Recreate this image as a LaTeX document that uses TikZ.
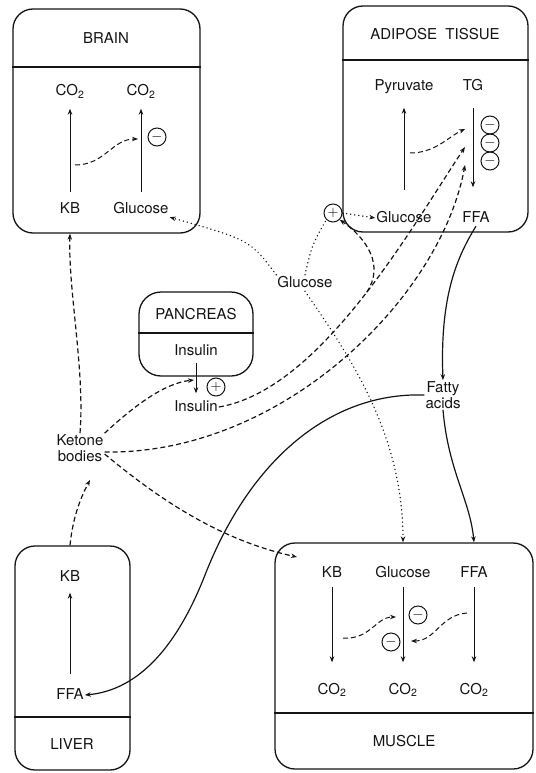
\documentclass[tikz,border=0pt]{standalone}
\usepackage{fontspec}
\setmainfont{TeX Gyre Heros}
\usetikzlibrary{arrows.meta,positioning,calc}
\definecolor{ink}{HTML}{141414}

\tikzset{
  organ/.style={draw=ink,line width=1.3pt,rounded corners=20pt,inner sep=0pt},
  lbl/.style={font=\fontsize{15}{16}\selectfont,text=ink,inner sep=1pt,text height=11pt,text depth=3pt},
  lbltwo/.style={font=\fontsize{15}{16}\selectfont,text=ink,inner sep=1pt,align=center},
  flow/.style={draw=ink,line width=0.8pt,-{Stealth[length=6pt,width=4.5pt]}},
  dashflow/.style={flow,line width=1.2pt,dash pattern=on 5pt off 3pt},
  dotflow/.style={flow,line width=1.5pt,line cap=round,dash pattern=on 0.1pt off 4pt},
  solidflow/.style={flow,line width=1.2pt},
  sign/.style={circle,draw=ink,line width=1pt,minimum size=18pt,inner sep=0pt,font=\fontsize{15}{15}\selectfont}
}

\begin{document}
\begin{tikzpicture}[x=1pt,y=-1pt]
\useasboundingbox (0,0) rectangle (535,773);

% organs
\node[organ,minimum width=187pt,minimum height=224pt] (brain) at (106.5,121) {};
\node[organ,minimum width=185pt,minimum height=226pt] (adipose) at (435.5,119) {};
\node[organ,minimum width=114pt,minimum height=84pt,rounded corners=22pt] (pancreas) at (196,334) {};
\node[organ,minimum width=115pt,minimum height=224pt] (liver) at (72.5,658) {};
\node[organ,minimum width=258pt,minimum height=226pt] (muscle) at (404,656) {};
\draw[ink,line width=1.3pt] (brain.west |- 0,67) -- (brain.east |- 0,67);
\draw[ink,line width=1.3pt] (adipose.west |- 0,60) -- (adipose.east |- 0,60);
\draw[ink,line width=1.3pt] (pancreas.west |- 0,333) -- (pancreas.east |- 0,333);
\draw[ink,line width=1.3pt] (liver.west |- 0,717) -- (liver.east |- 0,717);
\draw[ink,line width=1.3pt] (muscle.west |- 0,713) -- (muscle.east |- 0,713);

\node[lbl] (brainT) at (106,40) {BRAIN};
\node[lbl] (adiposeT) at (435,36) {ADIPOSE\ \ TISSUE};
\node[lbl] (pancreasT) at (196,315) {PANCREAS};
\node[lbl] (liverT) at (72,745) {LIVER};
\node[lbl] (muscleT) at (404,742) {MUSCLE};

% brain
\node[lbl] (bCOa) at (70,92) {CO\textsubscript{2}};
\node[lbl] (bCOb) at (141,92) {CO\textsubscript{2}};
\node[lbl] (bKB) at (70,209) {KB};
\node[lbl] (bGlu) at (141,209) {Glucose};
\node[sign] (bInh) at (157,137) {$-$};
\draw[flow,shorten <=8.5pt,shorten >=8.5pt] (bKB) -- (bCOa);
\draw[flow,shorten <=8.5pt,shorten >=8.5pt] (bGlu.north) -- (bCOb.south);
\coordinate (bFrom) at (75,165);
\coordinate (bTo) at (138,139);
\draw[dashflow,line width=1pt] (bFrom) .. controls (105,165) and (112,139) .. (bTo);

% adipose tissue
\node[lbl] (aPyr) at (404,87) {Pyruvate};
\node[lbl] (aTG) at (473,87) {TG};
\node[lbl] (aGlu) at (404,218) {Glucose};
\node[lbl] (aFFA) at (476,218) {FFA};
\foreach \i/\y in {1/125,2/143,3/161}{
  \node[sign] (aInh\i) at (490,\y) {$-$};
}
\node[sign] (aPlus) at (333,213) {$+$};
\draw[flow,shorten <=20pt,shorten >=12.5pt] (aGlu) -- (aPyr);
\draw[flow,shorten <=12.5pt,shorten >=22.5pt] (aTG.south) -- (aTG.south |- aFFA.north);
\coordinate (aFrom) at (410,153);
\coordinate (aTo1) at (465,129);
\coordinate (aTo2) at (465,147);
\coordinate (aTo3) at (465,165);
\draw[dashflow,line width=1pt] (aFrom) .. controls (435,153) and (448,137) .. (aTo1);

% pancreas
\node[lbl] (pIns) at (196,351) {Insulin};
\node[lbl] (ins) at (196,407) {Insulin};
\node[sign] (pPlus) at (216,387) {$+$};
\draw[flow,shorten <=3.5pt,shorten >=5.5pt] (pIns) -- (ins);
\coordinate (pHit) at (194,380);

% free labels
\node[lbl] (glc) at (305,283) {Glucose};
\node[lbltwo] (ket) at (80,448) {Ketone\\bodies};
\node[lbltwo] (fa) at (443,395) {Fatty\\acids};

% liver
\node[lbl] (lKB) at (70,577) {KB};
\node[lbl] (lFFA) at (70,695) {FFA};
\draw[flow,shorten <=12.5pt,shorten >=7.5pt] (lFFA) -- (lKB);

% muscle
\foreach \n/\x/\t in {KB/332/KB,Glu/403/Glucose,FFA/474/FFA}{
  \node[lbl] (m\n) at (\x,573) {\t};
  \node[lbl] (mCO\n) at (\x,690) {CO\textsubscript{2}};
  \draw[flow,shorten <=5.5pt,shorten >=19.5pt] (m\n) -- (mCO\n);
}
\node[sign] (mInh1) at (418,615) {$-$};
\node[sign] (mInh2) at (391,642) {$-$};
\coordinate (mFrom1) at (343,638);
\coordinate (mTo1) at (396,617);
\coordinate (mFrom2) at (467,613);
\coordinate (mTo2) at (411,641);
\draw[dashflow,line width=1pt] (mFrom1) .. controls (370,640) and (376,617) .. (mTo1);
\draw[dashflow,line width=1pt] (mFrom2) .. controls (440,615) and (436,641) .. (mTo2);
\coordinate (mIn) at (297,557);

% ketone bodies
\coordinate (kIn) at (90,480);
\draw[dashflow] (lKB |- liver.north) .. controls (73,515) and (82,495) .. (kIn);
\draw[dashflow] (ket.north) .. controls (85,370) and (68,290) .. (bKB |- brain.south);
\draw[dashflow] (ket.north east) .. controls (135,405) and (165,383) .. (pHit);
\draw[dashflow] ([yshift=-4pt]ket.east) .. controls (280,455) and (440,300) .. (aTo3);
\draw[dashflow] ([yshift=-6pt]ket.east) .. controls (160,500) and (220,540) .. (mIn);

% insulin
\draw[dashflow] (ins.east) .. controls (320,390) and (410,230) .. coordinate[pos=0.53] (jct) (aTo2);
\draw[dashflow] (jct) .. controls (385,265) and (366,238) .. (aPlus.south east);

% glucose
\draw[dotflow] (glc.north west) .. controls (250,240) .. (bGlu.south east);
\draw[dotflow,-] (glc.north) .. controls (312,245) .. (aPlus.south west);
\draw[dotflow] (aPlus.east) -- (aGlu.west);
\draw[dotflow] (glc.south) .. controls (345,350) and (403,430) .. (mGlu |- muscle.north);

% fatty acids
\draw[solidflow] (aFFA.south) .. controls (455,260) and (440,300) .. (fa.north);
\draw[solidflow] (fa.south) .. controls (448,470) and (470,500) .. (mFFA |- muscle.north);
\draw[solidflow] (fa.west) .. controls (330,392) and (250,460) .. (205,575) .. controls (178,644) and (140,690) .. (lFFA.east);
\end{tikzpicture}
\end{document}
